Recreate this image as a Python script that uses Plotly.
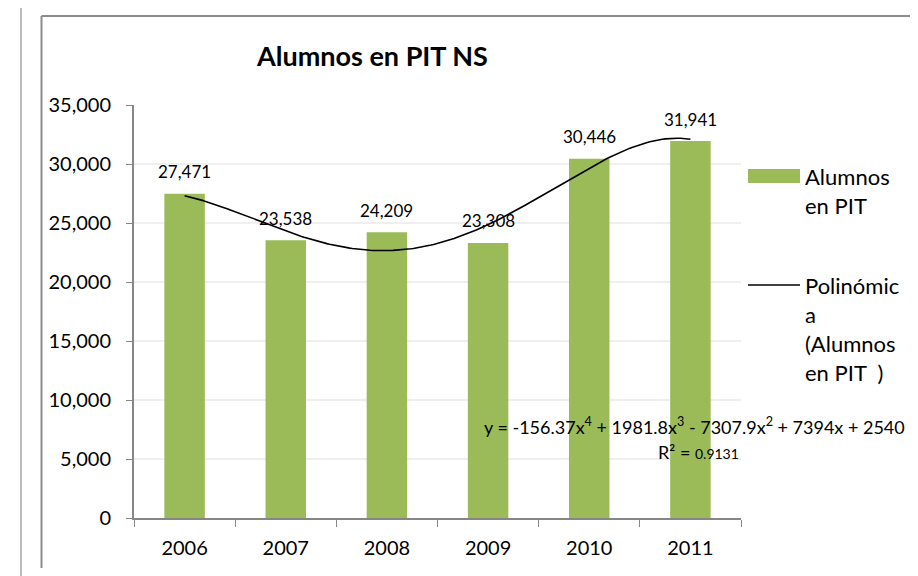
import numpy as np
import plotly.graph_objects as go

# ---- data ----
years = ["2006", "2007", "2008", "2009", "2010", "2011"]
alumnos = [27471, 23538, 24209, 23308, 30446, 31941]
y_ticks = [0, 5000, 10000, 15000, 20000, 25000, 30000, 35000]
title_text = "Alumnos en PIT NS"
series_name = "Alumnos en PIT"
trend_legend_lines = ["Polinómic", "a", "(Alumnos", "en PIT  )"]
bar_legend_lines = ["Alumnos", "en PIT"]
equation = "y = -156.37x<sup>4</sup> + 1981.8x<sup>3</sup> - 7307.9x<sup>2</sup> + 7394x + 2540"
r2_text = "R² = <span style='font-size:14px'>0.9131</span>"

FONT = "Lato"
GREEN = "#9BBB59"

# polynomial (order 4) trendline fitted to the series
xi = np.arange(1, len(alumnos) + 1)
coef = np.polyfit(xi, alumnos, 4)
xs = np.linspace(1, len(alumnos), 200)
ys = np.polyval(coef, xs)

W, H = 918, 576
OFF = 8  # page body margin
L, R, T, B = 134 - OFF, 741 - OFF, 105 - OFF, 518 - OFF


def px(x):
    return (x - OFF - L) / (R - L)


def py(y):
    return (B - (y - OFF)) / (B - T)


fig = go.Figure()
fig.add_trace(go.Bar(x=years, y=alumnos, marker=dict(color=GREEN, line=dict(width=0)),
                     width=0.4, name=series_name, showlegend=False, hoverinfo="x+y"))
fig.add_trace(go.Scatter(x=xs - 1, y=ys, mode="lines", xaxis="x2",
                         line=dict(color="black", width=1.6), showlegend=False, hoverinfo="skip"))

annotations = []
for i, v in enumerate(alumnos):
    annotations.append(dict(x=i, y=v, xref="x2", yref="y", text=f"{v:,}", showarrow=False,
                            yanchor="middle", yshift=22, font=dict(family=FONT, size=17, color="#000")))


def note(x, y, text, size, xanchor="center"):
    annotations.append(dict(x=px(x), y=py(y), xref="paper", yref="paper", text=text,
                            xanchor=xanchor, yanchor="middle", showarrow=False,
                            font=dict(family=FONT, size=size, color="#000")))


note(372, 55, f"<b>{title_text}</b>", 27)
note(694, 426, equation, 18)
note(698, 452, r2_text, 18)
for i, t in enumerate(bar_legend_lines):
    note(803, 176 + 29 * i, t, 22, "left")
for i, t in enumerate(trend_legend_lines):
    note(803, 285 + 29.2 * i, t, 22, "left")

shapes = [
    # outer frame
    dict(type="line", xref="paper", yref="paper", x0=px(21), x1=px(930), y0=py(5.5), y1=py(5.5),
         line=dict(color="#BDBDBD", width=2)),
    dict(type="line", xref="paper", yref="paper", x0=px(21), x1=px(21), y0=py(5), y1=py(590),
         line=dict(color="#BDBDBD", width=2)),
    # inner frame
    dict(type="line", xref="paper", yref="paper", x0=px(41.5), x1=px(911), y0=py(16), y1=py(16),
         line=dict(color="#8C8C8C", width=2)),
    dict(type="line", xref="paper", yref="paper", x0=px(41.5), x1=px(41.5), y0=py(16), y1=py(568),
         line=dict(color="#8C8C8C", width=2)),
    # legend swatches
    dict(type="rect", xref="paper", yref="paper", x0=px(748), x1=px(800), y0=py(169), y1=py(183),
         fillcolor=GREEN, line=dict(width=0)),
    dict(type="line", xref="paper", yref="paper", x0=px(748), x1=px(800), y0=py(285), y1=py(285),
         line=dict(color="black", width=1.6)),
]

fig.update_layout(
    width=W, height=H,
    margin=dict(l=L, r=W - R, t=T, b=H - B),
    paper_bgcolor="white", plot_bgcolor="white",
    showlegend=False,
    bargap=0.6,
    font=dict(family=FONT, size=20, color="#000"),
    xaxis=dict(type="category", range=[-0.5, len(years) - 0.5], tickson="boundaries",
               ticks="outside", ticklen=7, tickcolor="#868686",
               showline=True, linecolor="#868686", linewidth=2, showgrid=False,
               tickfont=dict(family=FONT, size=20), ticklabelstandoff=11, tickangle=0),
    xaxis2=dict(overlaying="x", range=[-0.5, len(alumnos) - 0.5], visible=False),
    yaxis=dict(range=[0, 35000], tickvals=y_ticks, tickformat=",", ticks="outside", ticklen=6,
               tickcolor="#868686", showline=True, linecolor="#868686", linewidth=2,
               showgrid=True, gridcolor="#EFEFEF", gridwidth=1.5, zeroline=False,
               tickfont=dict(family=FONT, size=20), ticklabelstandoff=11),
    annotations=annotations,
    shapes=shapes,
)

fig.write_html("out.html")
